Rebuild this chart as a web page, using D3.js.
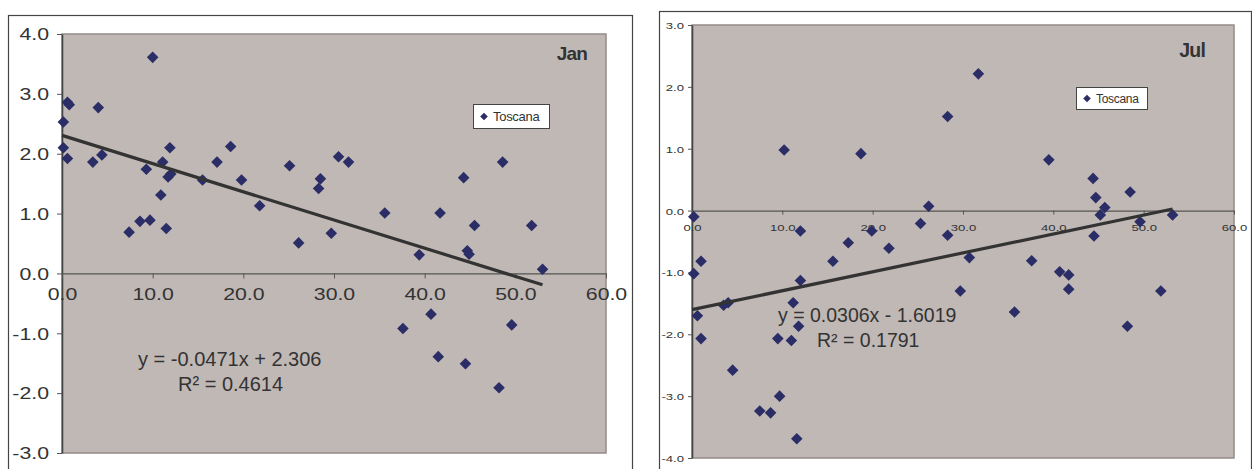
<!DOCTYPE html>
<html>
<head>
<meta charset="utf-8">
<script src="https://cdn.jsdelivr.net/npm/d3@7"></script>
<style>
  body { margin: 0; background: #fff; }
  svg { display: block; font-family: "Liberation Sans", Arial, sans-serif; }
</style>
</head>
<body>
<svg width="1252" height="469"></svg>
<script>
// Data
// Jan panel
const janX = [0.15, 0.15, 0.6, 0.8, 0.6, 3.4, 4.0, 4.4, 10.0, 9.3, 11.1, 11.9, 11.7, 12.0, 10.9, 15.5,
  17.1, 18.6, 19.8, 21.8, 25.1, 7.4, 8.6, 9.7, 11.5, 26.1, 30.5, 31.6, 28.5, 28.3, 35.6, 41.7,
  44.3, 48.6, 45.5, 51.8, 29.7, 39.4, 44.7, 44.9, 53.0, 37.6, 40.7, 49.6, 41.5, 44.5, 48.2];
const janY = [2.53, 2.10, 2.86, 2.82, 1.92, 1.86, 2.77, 1.98, 3.61, 1.74, 1.86, 2.10, 1.61, 1.66, 1.31, 1.56,
  1.86, 2.12, 1.56, 1.13, 1.80, 0.69, 0.87, 0.89, 0.75, 0.51, 1.95, 1.86, 1.58, 1.42, 1.01, 1.01,
  1.60, 1.86, 0.80, 0.80, 0.67, 0.31, 0.38, 0.32, 0.07, -0.92, -0.68, -0.86, -1.39, -1.51, -1.91];
// Jul panel
const julX = [0.2, 10.2, 18.7, 12.0, 19.9, 17.3, 25.3, 26.2, 28.3, 28.3, 31.7, 39.5, 44.4, 44.7, 48.5, 45.7,
  45.2, 49.6, 53.2, 44.5, 30.7, 29.7, 37.6, 35.7, 40.7, 41.7, 41.7, 51.9, 48.2, 0.2, 1.0, 0.6,
  1.0, 3.5, 4.0, 4.5, 12.0, 11.2, 11.8, 9.5, 11.0, 9.7, 7.5, 8.7, 11.6, 15.6, 21.8];
const julY = [-0.10, 0.98, 0.92, -0.33, -0.33, -0.52, -0.21, 0.07, 1.52, -0.40, 2.21, 0.82, 0.52, 0.21, 0.30, 0.05,
  -0.07, -0.18, -0.07, -0.41, -0.76, -1.30, -0.81, -1.64, -0.99, -1.04, -1.27, -1.30, -1.87, -1.02, -0.82, -1.70,
  -2.07, -1.53, -1.49, -2.58, -1.13, -1.49, -1.87, -2.07, -2.10, -3.00, -3.24, -3.27, -3.69, -0.82, -0.61];

// Trendline coefficients (slope, intercept, R2) as printed
const janFit = [-0.0471, 2.306, 0.4614];
const julFit = [0.0306, -1.6019, 0.1791];
const janEquation = ["y = -0.0471x + 2.306", "R\u00b2 = 0.4614"];
const julEquation = ["y = 0.0306x - 1.6019", "R\u00b2 = 0.1791"];

// Ticks
const xTicks = [0, 10, 20, 30, 40, 50, 60];
const janYTicks = [-3, -2, -1, 0, 1, 2, 3, 4];
const julYTicks = [-4, -3, -2, -1, 0, 1, 2, 3];

const seriesName = "Toscana";

const svg = d3.select("svg");
const markerColor = "#2b2d66";
const plotFill = "#c0b8b5";
const textColor = "#333";

function diamond(r) {
  return `M0,${-r}L${r},0L0,${r}L${-r},0Z`;
}

// Draws one panel
function drawPanel(p) {
  const g = svg.append("g");

  // outer frame
  g.append("rect")
    .attr("x", p.frame[0] + 0.5).attr("y", p.frame[1] + 0.5)
    .attr("width", p.frame[2] - p.frame[0]).attr("height", 600)
    .attr("fill", "#fff").attr("stroke", "#444").attr("stroke-width", 1.2);

  const x = d3.scaleLinear().domain([0, 60]).range([p.left, p.right]);
  const y = d3.scaleLinear().domain(p.yDomain).range([p.bottom, p.top]);

  // plot area
  g.append("rect")
    .attr("x", p.left).attr("y", p.top)
    .attr("width", p.right - p.left).attr("height", p.bottom - p.top)
    .attr("fill", plotFill).attr("stroke", "#958b88").attr("stroke-width", 1.5);

  // y axis
  const yAxis = g.append("g")
    .attr("transform", `translate(${p.left},0)`)
    .call(d3.axisLeft(y).tickValues(p.yTicks).tickSize(p.tick).tickSizeOuter(0)
      .tickFormat(d => d.toFixed(1)));
  yAxis.select(".domain").attr("stroke", "#444").attr("stroke-width", 1.6);
  yAxis.selectAll(".tick line").attr("stroke", "#555");
  yAxis.selectAll(".tick text")
    .attr("x", -p.yGap / p.sx).attr("dy", p.yDy)
    .attr("transform", `scale(${p.sx},1)`)
    .attr("font-size", p.tickFont).attr("fill", textColor)
    .attr("font-family", "Liberation Sans, Arial, sans-serif");

  // x axis crosses at y = 0
  const xAxis = g.append("g")
    .attr("transform", `translate(0,${y(0)})`)
    .call(d3.axisBottom(x).tickValues(xTicks).tickSize(p.tick).tickSizeOuter(0)
      .tickFormat(d => d.toFixed(1)));
  xAxis.select(".domain").attr("stroke", "#555").attr("stroke-width", 1.2);
  xAxis.selectAll(".tick line").attr("stroke", "#555");
  xAxis.selectAll(".tick text")
    .attr("y", p.xLabelY).attr("dy", 0)
    .attr("transform", `scale(${p.sx},1)`)
    .attr("font-size", p.tickFont).attr("fill", textColor)
    .attr("font-family", "Liberation Sans, Arial, sans-serif");

  // points
  const pts = p.xs.map((v, i) => [v, p.ys[i]]);
  g.append("g").selectAll("path")
    .data(pts)
    .join("path")
    .attr("d", diamond(5.8))
    .attr("transform", d => `translate(${x(d[0])},${y(d[1])})`)
    .attr("fill", markerColor);

  // trendline
  const ext = d3.extent(p.xs);
  const x0 = Math.min(0, ext[0]);
  g.append("line")
    .attr("x1", x(x0)).attr("y1", y(p.fit[0] * x0 + p.fit[1]))
    .attr("x2", x(ext[1])).attr("y2", y(p.fit[0] * ext[1] + p.fit[1]))
    .attr("stroke", "#333").attr("stroke-width", 3.2);

  // equation
  g.append("text")
    .attr("x", p.eq1[0]).attr("y", p.eq1[1])
    .attr("font-size", p.eqFont).attr("fill", textColor)
    .text(p.equation[0]);
  g.append("text")
    .attr("x", p.eq2[0]).attr("y", p.eq2[1])
    .attr("font-size", p.eqFont).attr("fill", textColor)
    .text(p.equation[1]);

  // month label
  g.append("text")
    .attr("x", p.month[0]).attr("y", p.month[1])
    .attr("text-anchor", "end").attr("font-weight", "bold")
    .attr("font-size", p.monthFont).attr("fill", textColor).attr("letter-spacing", -0.8)
    .text(p.monthName);

  // legend
  const lg = p.legend;
  g.append("rect")
    .attr("x", lg[0] + 0.5).attr("y", lg[1] + 0.5)
    .attr("width", lg[2] - lg[0]).attr("height", lg[3] - lg[1])
    .attr("fill", "#fff").attr("stroke", "#444").attr("stroke-width", 1);
  g.append("path")
    .attr("d", diamond(3.8))
    .attr("transform", `translate(${lg[0] + 11},${(lg[1] + lg[3]) / 2 + 0.5})`)
    .attr("fill", markerColor);
  g.append("text")
    .attr("x", lg[0] + 20).attr("y", (lg[1] + lg[3]) / 2 + 5)
    .attr("font-size", p.legendFont).attr("fill", textColor).attr("letter-spacing", -0.3)
    .text(seriesName);
}

drawPanel({
  frame: [8, 15, 632],
  left: 62, right: 606, top: 34, bottom: 453,
  yDomain: [-3, 4], yTicks: janYTicks,
  tick: 5, tickFont: 16, sx: 1.33, yGap: 13, yDy: "0.36em", xLabelY: 27,
  xs: janX, ys: janY, fit: janFit, equation: janEquation,
  eq1: [138, 366], eq2: [178, 391], eqFont: 20,
  month: [587, 60], monthFont: 19, monthName: "Jan",
  legend: [473, 104, 549, 128], legendFont: 13
});

drawPanel({
  frame: [659, 11, 1251],
  left: 692, right: 1234, top: 25, bottom: 458,
  yDomain: [-4, 3], yTicks: julYTicks,
  tick: 4, tickFont: 9.8, sx: 1.34, yGap: 8, yDy: "0.36em", xLabelY: 20,
  xs: julX, ys: julY, fit: julFit, equation: julEquation,
  eq1: [778, 322], eq2: [817, 347], eqFont: 19.5,
  month: [1205, 57], monthFont: 19.5, monthName: "Jul",
  legend: [1076, 87, 1147, 109], legendFont: 12
});
</script>
</body>
</html>
